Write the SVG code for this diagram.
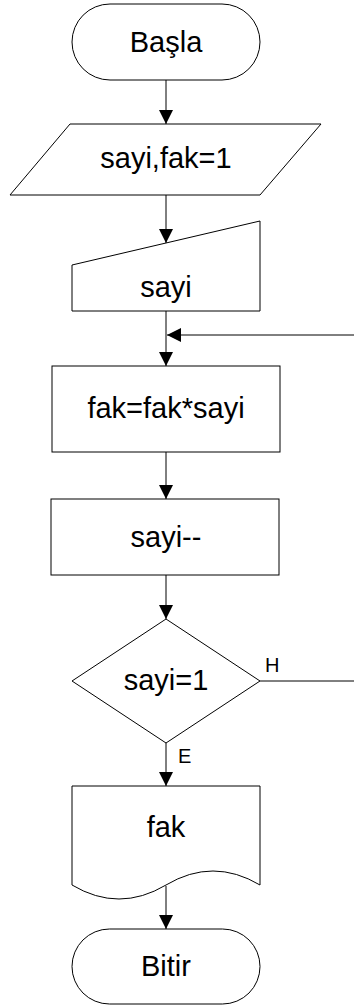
<svg xmlns="http://www.w3.org/2000/svg" width="354" height="1005" viewBox="0 0 354 1005">
<style>
.s{fill:#fff;stroke:#000;stroke-width:1}
.t{font-family:"Liberation Sans",Arial,sans-serif;font-size:29px;fill:#000;text-anchor:middle}
.l{font-family:"Liberation Sans",Arial,sans-serif;font-size:20px;fill:#000}
.c{fill:none;stroke:#000;stroke-width:1}
</style>
<defs>
<marker id="ah" markerUnits="userSpaceOnUse" markerWidth="14" markerHeight="14" refX="14" refY="7" orient="auto">
<path d="M0,0 L14,7 L0,14 z" fill="#000"/>
</marker>
</defs>
<rect width="354" height="1005" fill="#fff"/>
<g id="connectors">
<path class="c" d="M166,80 V124" marker-end="url(#ah)"/>
<path class="c" d="M166,195 V243" marker-end="url(#ah)"/>
<path class="c" d="M166,311 V366" marker-end="url(#ah)"/>
<path class="c" d="M354,335 H167" marker-end="url(#ah)"/>
<path class="c" d="M166,452 V499" marker-end="url(#ah)"/>
<path class="c" d="M166,575 V619" marker-end="url(#ah)"/>
<path class="c" d="M260,681 H354"/>
<path class="c" d="M166,743 V786" marker-end="url(#ah)"/>
<path class="c" d="M166,886 V929" marker-end="url(#ah)"/>
<text class="l" x="265" y="672">H</text>
<text class="l" x="178" y="763">E</text>
</g>
<g id="basla">
<rect class="s" x="72" y="4" width="188" height="76" rx="38"/>
<text class="t" x="166" y="52">Başla</text>
</g>
<g id="input1">
<polygon class="s" points="70,124 321,124 260,195 10,195"/>
<text class="t" x="166" y="168">sayi,fak=1</text>
</g>
<g id="manual">
<polygon class="s" points="72,265 260,221 260,311 72,311"/>
<text class="t" x="166" y="297">sayi</text>
</g>
<g id="process1">
<rect class="s" x="52" y="366" width="228" height="86"/>
<text class="t" x="166" y="418">fak=fak*sayi</text>
</g>
<g id="process2">
<rect class="s" x="51" y="499" width="228" height="76"/>
<text class="t" x="166" y="547">sayi--</text>
</g>
<g id="decision">
<polygon class="s" points="166,619 260,681 166,743 72,681"/>
<text class="t" x="166" y="690">sayi=1</text>
</g>
<g id="output">
<path class="s" d="M72,786 H260 V885 Q213,857 166,885 Q119,913 72,885 Z"/>
<text class="t" x="166" y="837">fak</text>
</g>
<g id="bitir">
<rect class="s" x="72" y="929" width="188" height="75" rx="37.5"/>
<text class="t" x="166" y="976">Bitir</text>
</g>
</svg>
